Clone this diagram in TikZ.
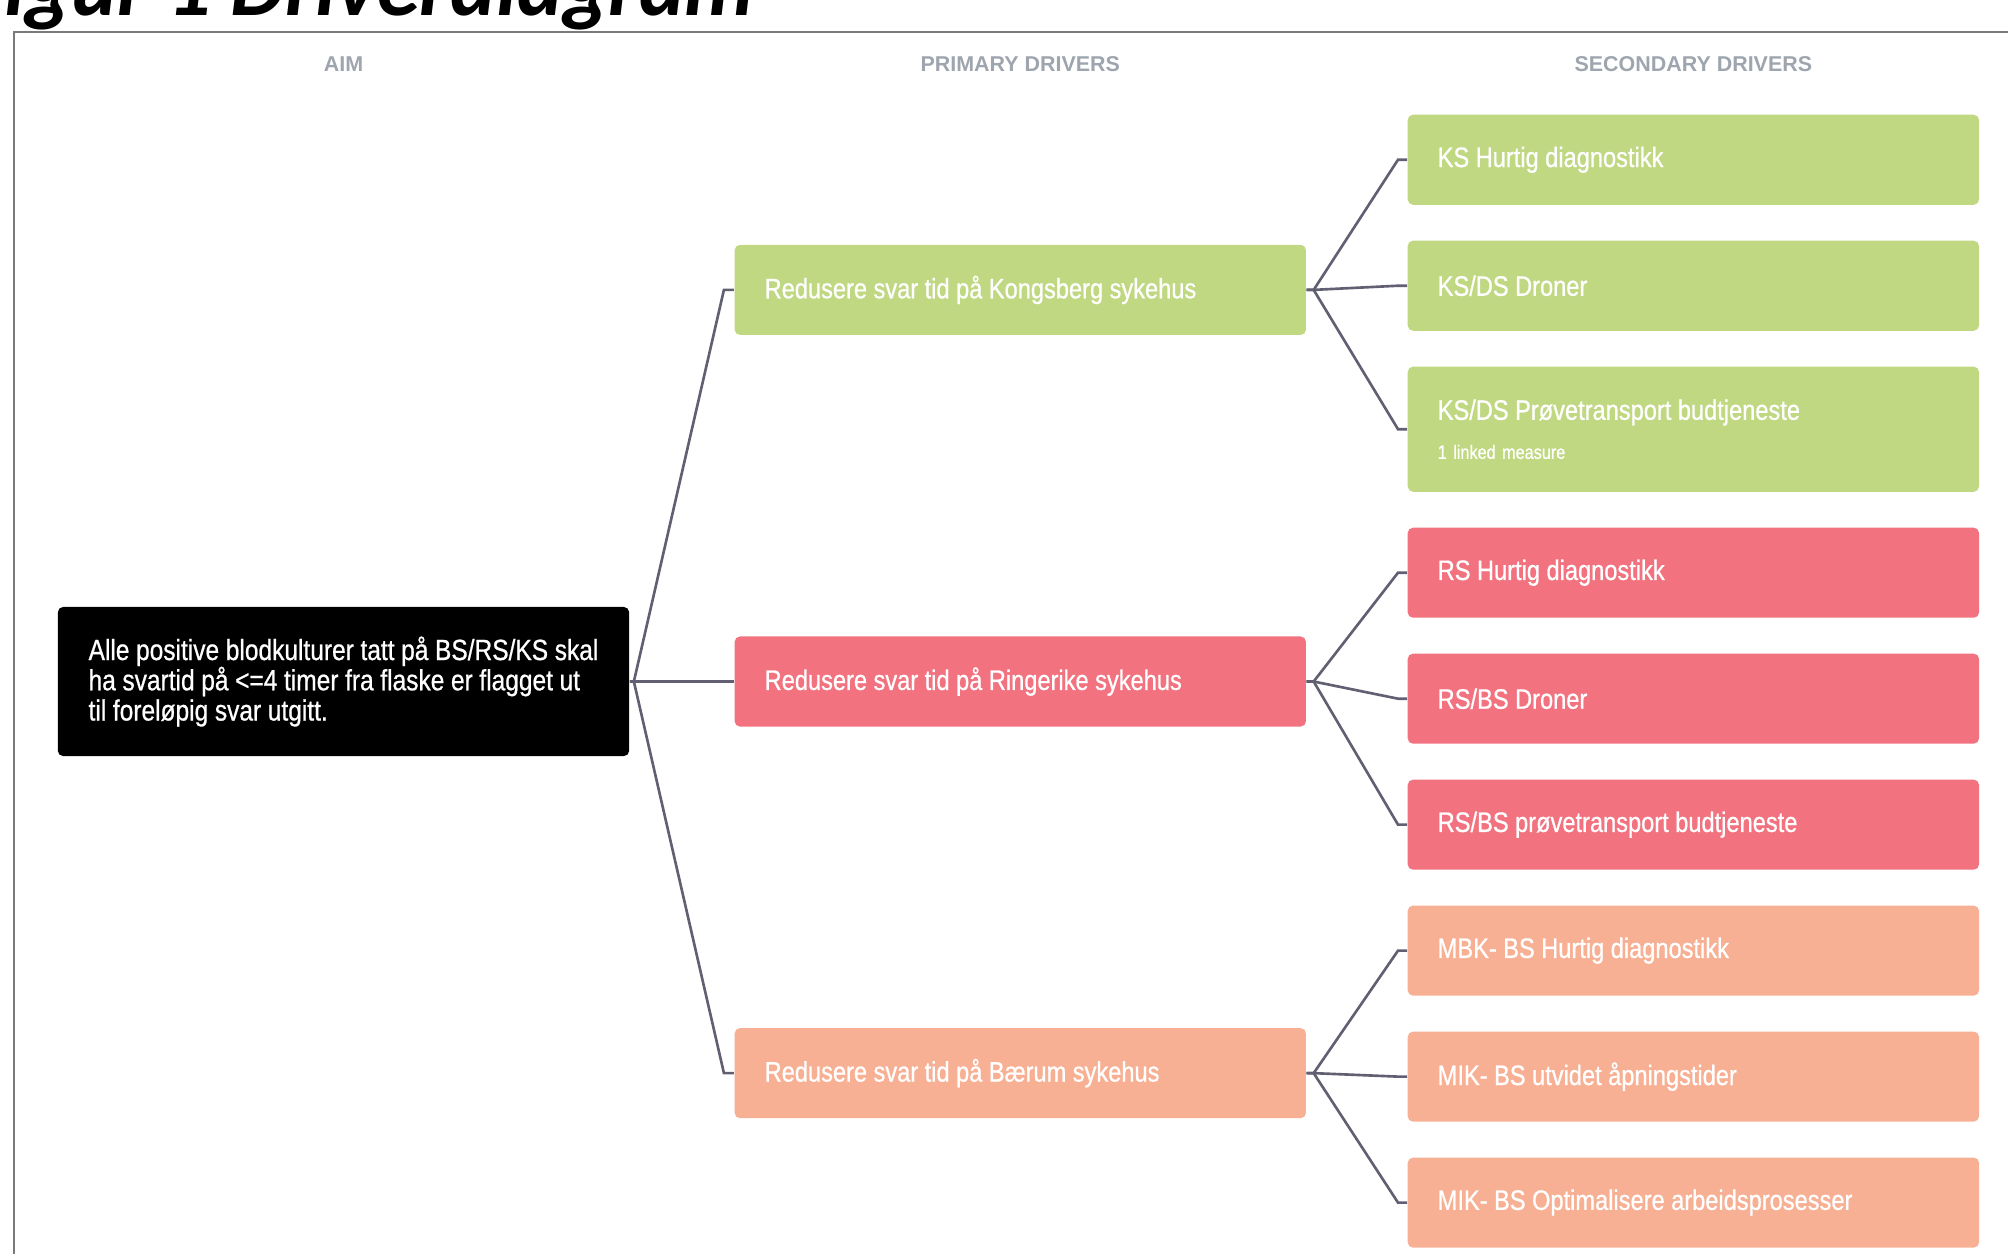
\documentclass[tikz,border=0pt]{standalone}
\usepackage{fontspec}
\usepackage{xcolor}
\usepackage{tikz}
\usetikzlibrary{positioning,calc}
\newfontfamily\boxfont[FakeStretch=0.84, FakeBold=0.7, WordSpace=0.97]{Liberation Sans}
\newfontfamily\headfont{Liberation Sans}
\newfontfamily\titlefont{Carlito}
\definecolor{ksgreen}{RGB}{193,216,130}
\definecolor{rsred}{RGB}{242,114,127}
\definecolor{bssalmon}{RGB}{247,176,148}
\definecolor{linkgray}{RGB}{96,96,114}
\definecolor{headgray}{RGB}{158,165,174}
\definecolor{framegray}{RGB}{122,122,122}

\begin{document}
\begin{tikzpicture}[x=0.01cm, y=-0.01cm, node distance=0.345cm,
        driver/.style={rectangle, rounded corners=1.5pt, text=white, font=\boxfont\fontsize{8}{9.6}\selectfont,
            text width=5.11cm, inner xsep=0.3cm, inner ysep=0pt, minimum height=0.9cm, align=left,
            execute at begin node={\spaceskip=0.23em plus 0.05em\relax}},
        ks driver/.style={driver, fill=ksgreen},
        rs driver/.style={driver, fill=rsred},
        bs driver/.style={driver, fill=bssalmon},
        header/.style={text=headgray, font=\headfont\bfseries\fontsize{6.1}{7}\selectfont},
        link/.style={draw=linkgray, line width=0.75pt}]

        \useasboundingbox (0,0) rectangle (2008,1253);
        \node [anchor=base east, inner sep=0pt, font=\titlefont\bfseries\itshape\fontsize{24.6}{29}\selectfont] (title) at (755,15) {Figur 1 Driverdiagram};
        \draw [framegray, line width=0.6pt] (14,1270) |- (2020,32);

        % aim and primary drivers
        \node [rectangle, rounded corners=1.5pt, fill=black, text=white, minimum width=5.71cm, minimum height=1.49cm, align=left,
            font=\boxfont\fontsize{8.3}{8.6}\selectfont] (aim) at (343.5,681.5)
            {Alle positive blodkulturer tatt på BS/RS/KS skal\\ha svartid på <=4 timer fra flaske er flagget ut\\til foreløpig svar utgitt.};
        \node [rs driver, right=1.04cm of aim] (rs) {Redusere svar tid på Ringerike sykehus};
        \node [ks driver, above=3cm of rs] (ks) {Redusere svar tid på Kongsberg sykehus};
        \node [bs driver, below=3cm of rs] (bs) {Redusere svar tid på Bærum sykehus};

        % secondary drivers
        \node [ks driver, anchor=north west] (ks1) at (1407,114) {KS Hurtig diagnostikk};
        \node [ks driver, below=of ks1] (ks2) {KS/DS Droner};
        \node [ks driver, below=of ks2, minimum height=1.25cm] (ks3) {KS/DS Prøvetransport budtjeneste\\[1.5pt]{\fontsize{5.5}{6.6}\selectfont 1 linked measure}};
        \node [rs driver, below=of ks3] (rs1) {RS Hurtig diagnostikk};
        \node [rs driver, below=of rs1] (rs2) {RS/BS Droner};
        \node [rs driver, below=of rs2] (rs3) {RS/BS prøvetransport budtjeneste};
        \node [bs driver, below=of rs3] (bs1) {MBK- BS Hurtig diagnostikk};
        \node [bs driver, below=of bs1] (bs2) {MIK- BS utvidet åpningstider};
        \node [bs driver, below=of bs2] (bs3) {MIK- BS Optimalisere arbeidsprosesser};

        % column headers
        \node [header] (aimhead) at (aim |- 0,64) {AIM};
        \node [header] (primhead) at (rs |- 0,64) {PRIMARY DRIVERS};
        \node [header] (sechead) at (ks1 |- 0,64) {SECONDARY DRIVERS};

        \foreach \p in {ks,rs,bs}
            \path [link] (aim.east) -- ++(4,0) -- ([xshift=-0.1cm]\p.west) -- (\p.west);
        \foreach \p/\s in {ks/ks1,ks/ks2,ks/ks3,rs/rs1,rs/rs2,rs/rs3,bs/bs1,bs/bs2,bs/bs3}
            \path [link] (\p.east) -- ++(7,0) -- ([xshift=-0.09cm]\s.west) -- (\s.west);
    \end{tikzpicture}
\end{document}
